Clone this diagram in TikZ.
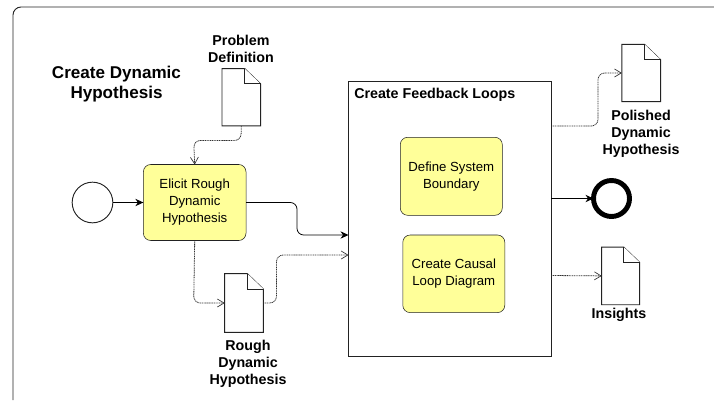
\documentclass[tikz,border=0pt]{standalone}
\usepackage{fontspec}
\setmainfont{Liberation Sans}
\usetikzlibrary{arrows.meta}
\definecolor{taskyellow}{HTML}{FFFF99}
\definecolor{lineclr}{HTML}{222222}
\tikzset{
  taskbox/.style={draw=lineclr,fill=taskyellow,rounded corners=5.5pt,inner sep=0pt,outer sep=0pt,
    align=center,font=\fontsize{9.9}{12.75}\selectfont},
  lbl/.style={align=center,inner sep=0pt,font=\fontsize{10.7}{12.75}\selectfont\bfseries},
  docbox/.style={inner sep=0pt,outer sep=0pt},
  docline/.style={draw=lineclr,line width=.7pt,fill=white},
  seqflow/.style={draw=black,line width=.6pt,rounded corners=5pt,-{Stealth[length=6pt,width=5.5pt]}},
  msgflow/.style={draw=black!80,line width=.6pt,dash pattern=on .8pt off .5pt,rounded corners=5pt,
    -{Straight Barb[length=5pt,width=6pt,line width=.5pt,fill=none]}}
}
% document symbol on a named node
\newcommand{\drawdoc}[1]{
   \draw[docline] (#1.south west) -- (#1.north west) -- ([xshift=-12pt]#1.north east)
   -- ([yshift=-11.5pt]#1.north east) -- (#1.south east) -- cycle;
   \draw[docline] ([xshift=-12pt]#1.north east) -- ([xshift=-12pt,yshift=-11.5pt]#1.north east)
   -- ([yshift=-11.5pt]#1.north east);
}
\begin{document}
\begin{tikzpicture}[x=.75pt,y=-.75pt]
   \useasboundingbox (0,0) rectangle (714,400);
   \draw[draw=lineclr,line width=.7pt,rounded corners=6pt] (13,400) -- (13,7) -- (714,7);

   \node[lbl,font=\fontsize{12.8}{15}\selectfont\bfseries] (title) at (116.5,84.5) {Create Dynamic\\Hypothesis};

   % main sub process
   \node[draw=lineclr,line width=.7pt,inner sep=0pt,outer sep=0pt,minimum width=152pt,minimum height=205.7pt] (feedback) at (450,219) {};
   \node[lbl,anchor=west] (feedbacklbl) at (354,94.5) {Create Feedback Loops};
   \node[taskbox,minimum width=76.5pt,minimum height=58.5pt] (boundary) at (451.3,176.3) {Define System\\Boundary};
   \node[taskbox,minimum width=76.5pt,minimum height=58.2pt] (causal) at (453.8,273.8) {Create Causal\\Loop Diagram};

   % events and first task
   \node[draw=lineclr,line width=.7pt,circle,inner sep=0pt,outer sep=0pt,minimum size=30.5pt] (start) at (92.5,202.5) {};
   \node[draw=black,line width=3.7pt,circle,inner sep=0pt,outer sep=0pt,minimum size=27pt] (stop) at (611.5,198.5) {};
   \node[taskbox,minimum width=77pt,minimum height=57pt] (elicit) at (194.7,202.5) {Elicit Rough\\Dynamic\\Hypothesis};

   % documents
   \node[docbox,minimum width=29pt,minimum height=43pt] (problem) at (241.3,97.2) {};
   \node[docbox,minimum width=29pt,minimum height=44pt] (rough) at (244,303) {};
   \node[docbox,minimum width=29pt,minimum height=43pt] (polished) at (641.2,73) {};
   \node[docbox,minimum width=28.5pt,minimum height=43.3pt] (insights) at (620.7,275.9) {};
   \drawdoc{problem}
   \drawdoc{rough}
   \drawdoc{polished}
   \drawdoc{insights}

   \node[lbl] (problemlbl) at (241,49) {Problem\\Definition};
   \node[lbl] (roughlbl) at (248,364) {Rough\\Dynamic\\Hypothesis};
   \node[lbl] (polishedlbl) at (641,134) {Polished\\Dynamic\\Hypothesis};
   \node[lbl] (insightslbl) at (619,314.5) {Insights};

   % free ends on the big box
   \coordinate (feedbackinA) at (348.5,235);
   \coordinate (feedbackinB) at (348.5,255);
   \coordinate (feedbackoutA) at (551.3,126);
   \coordinate (feedbackoutB) at (551.3,198.5);
   \coordinate (feedbackoutC) at (551.3,275.5);

   \draw[seqflow] (start) -- (elicit);
   \draw[seqflow] (elicit.east) -- (297,202.5) -- (297,235) -- (feedbackinA);
   \draw[seqflow] (feedbackoutB) -- (stop);
   \draw[msgflow] (problem.south) -- (241,140.5) -- (193.7,140.5) -- (elicit.north);
   \draw[msgflow] (elicit.south) -- (193.7,303) -- (rough.west);
   \draw[msgflow] (rough.east) -- (276.5,303) -- (276.5,255) -- (feedbackinB);
   \draw[msgflow] (feedbackoutA) -- (598,126) -- (598,73) -- (polished.west);
   \draw[msgflow] (feedbackoutC) -- (insights.west);
\end{tikzpicture}
\end{document}
